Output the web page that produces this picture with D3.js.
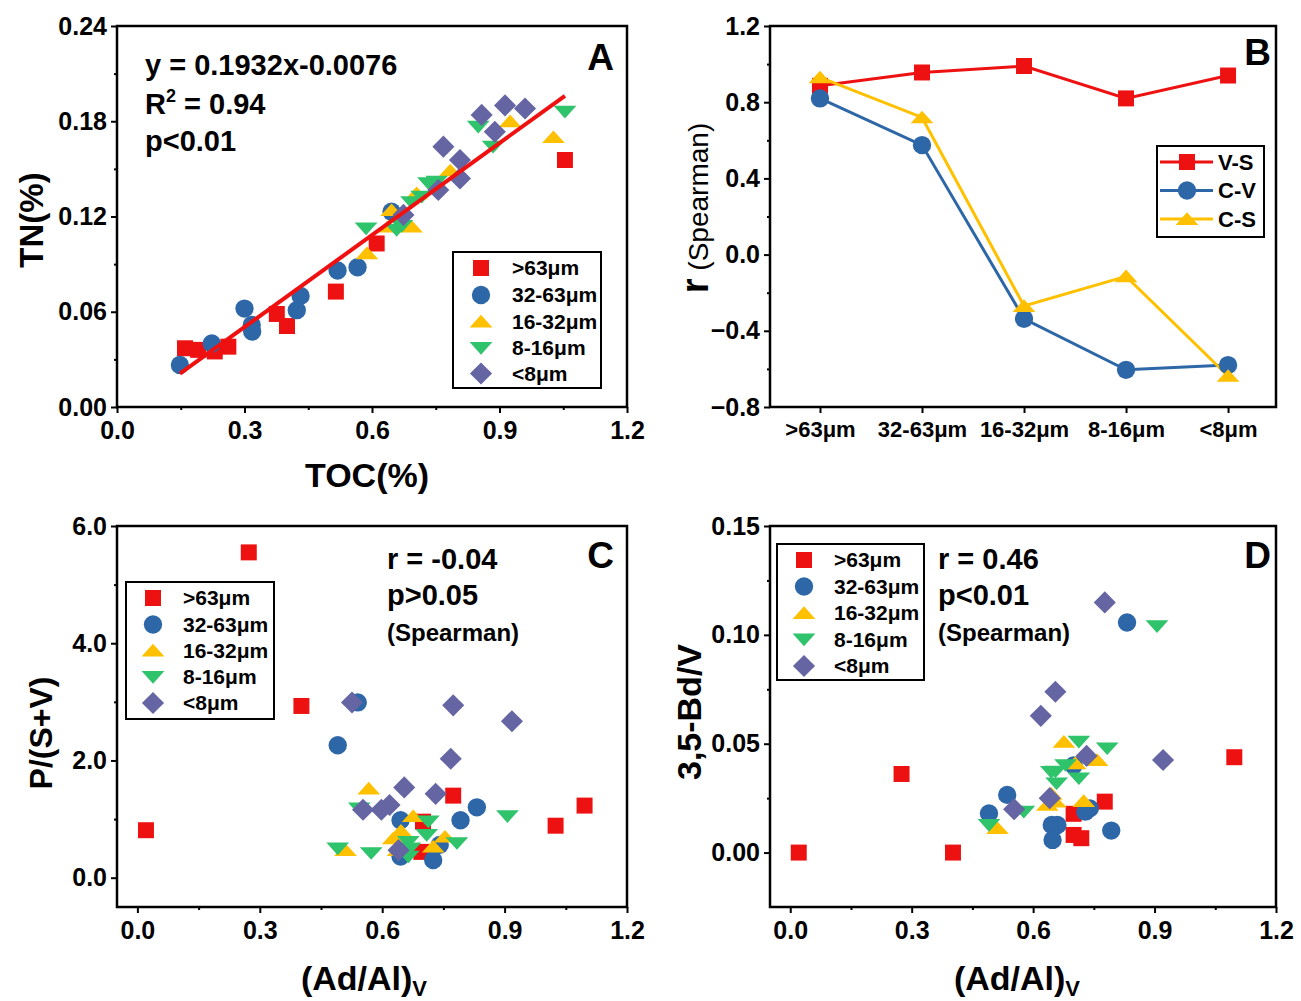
<!DOCTYPE html>
<html><head><meta charset="utf-8">
<script src="https://cdn.jsdelivr.net/npm/d3@7"></script>
<style>
body{margin:0;background:#fff;}
svg{display:block;font-family:"Liberation Sans",Arial,sans-serif;}
</style></head>
<body><svg id="c" width="1301" height="1001"></svg>
<script>
// ---------- DATA ----------
const sizeClasses = [">63μm", "32-63μm", "16-32μm", "8-16μm", "<8μm"];
const classColors = ["#EE1111", "#2E67A7", "#FFC000", "#2FC36B", "#6565A3"];
const classShapes = ["square", "circle", "triangle", "triangleDown", "diamond"];

// Panel A: TOC(%), TN(%)
const A_gt63 = [[0.16,0.037],[0.191,0.036],[0.23,0.035],[0.262,0.038],[0.376,0.0586],[0.40,0.051],[0.515,0.0727],[0.611,0.103],[1.054,0.1556]];
const A_32_63 = [[0.148,0.0265],[0.223,0.040],[0.30,0.062],[0.317,0.0517],[0.318,0.0475],[0.423,0.061],[0.432,0.070],[0.519,0.086],[0.566,0.088],[0.646,0.123]];
const A_16_32 = [[0.588,0.0968],[0.646,0.124],[0.638,0.1136],[0.693,0.1136],[0.705,0.1346],[0.784,0.149],[0.925,0.180],[1.027,0.170]];
const A_8_16 = [[0.586,0.1125],[0.658,0.1115],[0.67,0.114],[0.693,0.129],[0.717,0.1325],[0.733,0.141],[0.752,0.142],[0.850,0.1766],[0.885,0.164],[1.054,0.186]];
const A_lt8 = [[0.674,0.121],[0.756,0.1367],[0.768,0.164],[0.807,0.1556],[0.807,0.144],[0.858,0.184],[0.889,0.1734],[0.913,0.190],[0.96,0.188]];
const A_fitSlope = 0.1932, A_fitIntercept = -0.0076, A_fitRange = [0.148, 1.054];
const A_xTicks = [0, 0.3, 0.6, 0.9, 1.2];
const A_yTicks = [0, 0.06, 0.12, 0.18, 0.24];

// Panel B: Spearman r by size class
const B_VS = [0.886, 0.956, 0.99, 0.82, 0.94];
const B_CV = [0.82, 0.575, -0.337, -0.605, -0.58];
const B_CS = [0.93, 0.72, -0.27, -0.114, -0.637];
const B_seriesNames = ["V-S", "C-V", "C-S"];
const B_yTicks = [-0.8, -0.4, 0, 0.4, 0.8, 1.2];

// Panel C: (Ad/Al)V, P/(S+V)
const C_gt63 = [[0.273,5.55],[0.402,2.93],[0.021,0.81],[0.774,1.40],[1.025,0.887],[1.096,1.23],[0.70,0.956],[0.696,0.44]];
const C_32_63 = [[0.54,2.99],[0.491,2.26],[0.645,0.98],[0.792,0.98],[0.832,1.20],[0.725,0.30],[0.645,0.36],[0.741,0.56]];
const C_16_32 = [[0.567,1.52],[0.51,0.47],[0.676,1.05],[0.627,0.67],[0.754,0.70],[0.725,0.53],[0.639,0.47],[0.646,0.80]];
const C_8_16 = [[0.491,0.50],[0.573,0.42],[0.544,1.18],[0.907,1.05],[0.783,0.59],[0.713,0.96],[0.709,0.73],[0.664,0.61],[0.668,0.50],[0.664,0.36]];
const C_lt8 = [[0.526,2.99],[0.774,2.94],[0.918,2.67],[0.768,2.03],[0.654,1.54],[0.731,1.43],[0.618,1.24],[0.598,1.16],[0.553,1.16],[0.64,0.47]];
const C_xTicks = [0, 0.3, 0.6, 0.9, 1.2];
const C_yTicks = [0, 2, 4, 6];

// Panel D: (Ad/Al)V, 3,5-Bd/V
const D_gt63 = [[0.021,0.0],[0.402,0.0],[0.275,0.0361],[1.097,0.0438],[0.777,0.0234],[0.70,0.0178],[0.70,0.0081],[0.719,0.0066]];
const D_32_63 = [[0.832,0.1057],[0.536,0.0265],[0.491,0.018],[0.646,0.0127],[0.66,0.0127],[0.648,0.0058],[0.793,0.0101],[0.729,0.0188],[0.74,0.0203],[0.70,0.040]];
const D_16_32 = [[0.676,0.0509],[0.758,0.0425],[0.704,0.041],[0.725,0.0237],[0.635,0.0219],[0.655,0.0234],[0.512,0.0112],[0.645,0.027]];
const D_8_16 = [[0.906,0.104],[0.713,0.0509],[0.783,0.0479],[0.68,0.0402],[0.655,0.0372],[0.658,0.0318],[0.713,0.0341],[0.577,0.0188],[0.491,0.0127],[0.645,0.037]];
const D_lt8 = [[0.777,0.1149],[0.655,0.0739],[0.619,0.0628],[0.921,0.0425],[0.732,0.0444],[0.641,0.025],[0.553,0.0199]];
const D_xTicks = [0, 0.3, 0.6, 0.9, 1.2];
const D_yTicks = [0, 0.05, 0.10, 0.15];

// ---------- DRAWING ----------
const svg = d3.select("#c");
const FONT = '"Liberation Sans",Arial,sans-serif';
const TICKFS = 25;

function shapePath(type, s) {
  const p = d3.path();
  if (type === "square") { const h = s*0.47; p.rect(-h, -h, 2*h, 2*h); }
  else if (type === "circle") { p.arc(0, 0, s*0.54, 0, 2*Math.PI); }
  else if (type === "triangle") { const h = s*0.62, w = s*0.67; p.moveTo(0, -h*0.64); p.lineTo(w, h*0.56); p.lineTo(-w, h*0.56); p.closePath(); }
  else if (type === "triangleDown") { const h = s*0.62, w = s*0.67; p.moveTo(0, h*0.64); p.lineTo(w, -h*0.56); p.lineTo(-w, -h*0.56); p.closePath(); }
  else if (type === "diamond") { const h = s*0.65; p.moveTo(0, -h); p.lineTo(h, 0); p.lineTo(0, h); p.lineTo(-h, 0); p.closePath(); }
  return p.toString();
}

function frame(x, y) {
  const [x0, x1] = x.range(), [y0, y1] = y.range();
  svg.append("rect").attr("x", x0).attr("y", y1).attr("width", x1 - x0).attr("height", y0 - y1)
    .attr("fill", "none").attr("stroke", "#000").attr("stroke-width", 2.5);
}

function axes(x, y, xt, yt, xfmt, yfmt, xminor, yminor) {
  const [x0, x1] = x.range(), [y0, y1] = y.range();
  const gx = svg.append("g").attr("transform", `translate(0,${y0})`)
    .call(d3.axisBottom(x).tickValues(xt).tickFormat(xfmt).tickSize(6).tickSizeOuter(0).tickPadding(8));
  const gy = svg.append("g").attr("transform", `translate(${x0},0)`)
    .call(d3.axisLeft(y).tickValues(yt).tickFormat(yfmt).tickSize(6).tickSizeOuter(0).tickPadding(4));
  if (xminor) svg.append("g").attr("transform", `translate(0,${y0})`)
    .call(d3.axisBottom(x).tickValues(xminor).tickFormat("").tickSize(3).tickSizeOuter(0));
  if (yminor) svg.append("g").attr("transform", `translate(${x0},0)`)
    .call(d3.axisLeft(y).tickValues(yminor).tickFormat("").tickSize(3).tickSizeOuter(0));
  svg.selectAll(".domain").remove();
  [gx, gy].forEach(g => g.selectAll("text").attr("font-size", TICKFS).attr("font-weight", "bold")
    .attr("font-family", FONT).attr("fill", "#000"));
  svg.selectAll(".tick line").attr("stroke", "#000").attr("stroke-width", 2);
  return [gx, gy];
}

function scatter(x, y, groups) {
  groups.forEach((pts, i) => {
    svg.append("g").selectAll("path").data(pts).join("path")
      .attr("transform", d => `translate(${x(d[0])},${y(d[1])})`)
      .attr("d", shapePath(classShapes[i], 17))
      .attr("fill", classColors[i]);
  });
}

function legendBox(bx, by, bw, bh, mx, tx, rows) {
  svg.append("rect").attr("x", bx).attr("y", by).attr("width", bw).attr("height", bh)
    .attr("fill", "#fff").attr("stroke", "#000").attr("stroke-width", 2);
  sizeClasses.forEach((name, i) => {
    svg.append("path").attr("transform", `translate(${mx},${rows[i]})`)
      .attr("d", shapePath(classShapes[i], 17)).attr("fill", classColors[i]);
    svg.append("text").attr("x", tx).attr("y", rows[i]).attr("dy", "0.35em")
      .attr("font-size", 21).attr("font-weight", "bold").text(name);
  });
}

function label(txt, x, y, fs, anchor) {
  return svg.append("text").attr("x", x).attr("y", y).attr("font-size", fs)
    .attr("font-weight", "bold").attr("text-anchor", anchor || "start").text(txt);
}

const f2 = d3.format(".2f"), f1 = d3.format(".1f");

// ===== Panel A =====
{
  const x = d3.scaleLinear().domain([0, 1.2]).range([117, 627]);
  const y = d3.scaleLinear().domain([0, 0.24]).range([407, 26]);
  axes(x, y, A_xTicks, A_yTicks, f1, f2, [0.15, 0.45, 0.75, 1.05], [0.03, 0.09, 0.15, 0.21]);
  scatter(x, y, [A_gt63, A_32_63, A_16_32, A_8_16, A_lt8]);
  svg.append("line").attr("x1", x(A_fitRange[0])).attr("y1", y(A_fitSlope*A_fitRange[0] + A_fitIntercept))
    .attr("x2", x(A_fitRange[1])).attr("y2", y(A_fitSlope*A_fitRange[1] + A_fitIntercept))
    .attr("stroke", "#F01010").attr("stroke-width", 4);
  frame(x, y);
  label("y = 0.1932x-0.0076", 145, 75, 29);
  const r2 = label("R", 145, 114, 29);
  r2.append("tspan").attr("font-size", 18).attr("dy", -12).text("2");
  r2.append("tspan").attr("dy", 12).text(" = 0.94");
  label("p<0.01", 145, 151, 29);
  label("A", 614, 70, 37, "end");
  legendBox(453, 252, 148, 136, 481, 512, [268, 295, 321.5, 348, 373.5]);
  label("TOC(%)", 367, 487, 34, "middle");
  label("TN(%)", 0, 0, 33, "middle").attr("transform", "translate(43,220) rotate(-90)");
}

// ===== Panel B =====
{
  const x = d3.scaleLinear().domain([-0.49, 4.47]).range([770, 1276]);
  const y = d3.scaleLinear().domain([-0.8, 1.2]).range([407, 26]);
  const idx = d3.range(sizeClasses.length);
  const [gx] = axes(x, y, idx, B_yTicks, i => sizeClasses[i], f1, null, [-0.6, -0.2, 0.2, 0.6, 1.0]);
  gx.selectAll("text").attr("font-size", 22);
  const series = [B_VS, B_CV, B_CS];
  const cols = [classColors[0], classColors[1], classColors[2]];
  const shp = ["square", "circle", "triangle"];
  const line = d3.line().x((d, i) => x(i)).y(d => y(d));
  series.forEach((s, k) => {
    svg.append("path").datum(s).attr("d", line).attr("fill", "none")
      .attr("stroke", cols[k]).attr("stroke-width", 3);
  });
  series.forEach((s, k) => {
    svg.append("g").selectAll("path").data(s).join("path")
      .attr("transform", (d, i) => `translate(${x(i)},${y(d)})`)
      .attr("d", shapePath(shp[k], 17)).attr("fill", cols[k]);
  });
  frame(x, y);
  label("B", 1271, 65, 37, "end");
  svg.append("rect").attr("x", 1157).attr("y", 146).attr("width", 107).attr("height", 91)
    .attr("fill", "#fff").attr("stroke", "#000").attr("stroke-width", 2);
  B_seriesNames.forEach((n, k) => {
    const yy = 162 + k*28.5;
    svg.append("line").attr("x1", 1160).attr("x2", 1213).attr("y1", yy).attr("y2", yy)
      .attr("stroke", cols[k]).attr("stroke-width", 3);
    svg.append("path").attr("transform", `translate(1187,${yy})`).attr("d", shapePath(shp[k], 17)).attr("fill", cols[k]);
    svg.append("text").attr("x", 1218).attr("y", yy).attr("dy", "0.35em")
      .attr("font-size", 22).attr("font-weight", "bold").text(n);
  });
  const t = svg.append("text").attr("transform", "translate(708,208) rotate(-90)").attr("text-anchor", "middle");
  t.append("tspan").attr("font-size", 38).attr("font-weight", "bold").text("r");
  t.append("tspan").attr("font-size", 28).text(" (Spearman)");
}

// ===== Panel C =====
{
  const x = d3.scaleLinear().domain([-0.05, 1.2]).range([117, 627]);
  const y = d3.scaleLinear().domain([-0.5, 6.0]).range([907, 526]);
  axes(x, y, C_xTicks, C_yTicks, f1, f1, [0.15, 0.45, 0.75, 1.05], [1, 3, 5]);
  scatter(x, y, [C_gt63, C_32_63, C_16_32, C_8_16, C_lt8]);
  frame(x, y);
  label("r = -0.04", 387, 569, 29);
  label("p>0.05", 387, 605, 29);
  label("(Spearman)", 387, 641, 24);
  label("C", 614, 568, 37, "end");
  legendBox(126, 582, 148, 137, 153, 183, [598, 624.5, 650.5, 677, 703]);
  const t = label("(Ad/Al)", 364, 990, 34, "middle");
  t.append("tspan").attr("font-size", 22).attr("dy", 6).text("V");
  label("P/(S+V)", 0, 0, 32, "middle").attr("transform", "translate(52,733) rotate(-90)");
}

// ===== Panel D =====
{
  const x = d3.scaleLinear().domain([-0.05, 1.2]).range([770, 1276]);
  const y = d3.scaleLinear().domain([-0.025, 0.15]).range([907, 526]);
  axes(x, y, D_xTicks, D_yTicks, f1, f2, [0.15, 0.45, 0.75, 1.05], [0.025, 0.075, 0.125]);
  scatter(x, y, [D_gt63, D_32_63, D_16_32, D_8_16, D_lt8]);
  frame(x, y);
  label("r = 0.46", 938, 569, 29);
  label("p<0.01", 938, 605, 29);
  label("(Spearman)", 938, 641, 24);
  label("D", 1271, 568, 37, "end");
  legendBox(777, 544, 147, 136, 804, 834, [560, 586.5, 613, 639.5, 666]);
  const t = label("(Ad/Al)", 1017, 990, 34, "middle");
  t.append("tspan").attr("font-size", 22).attr("dy", 6).text("V");
  label("3,5-Bd/V", 0, 0, 34, "middle").attr("transform", "translate(701,712) rotate(-90)");
}
</script></body></html>
